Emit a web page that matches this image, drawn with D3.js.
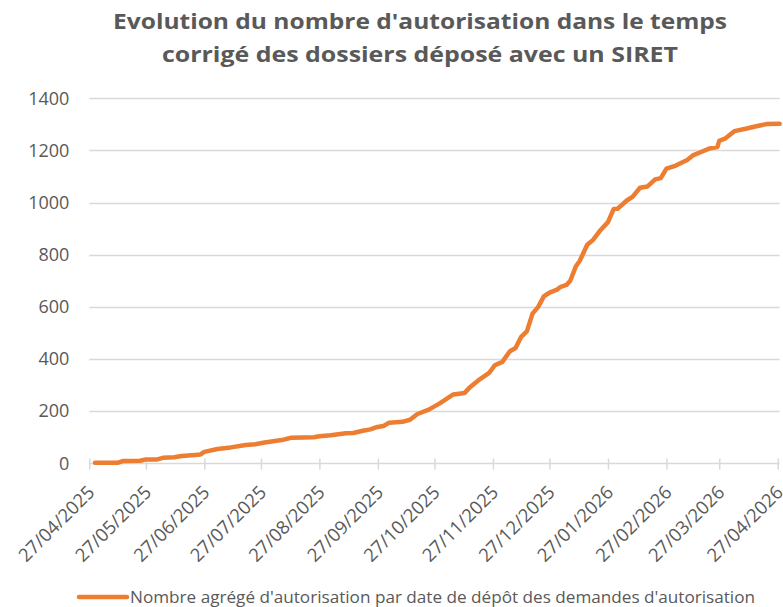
<!DOCTYPE html>
<html>
<head>
<meta charset="utf-8">
<script src="https://cdn.jsdelivr.net/npm/d3@7"></script>
<style>
  html, body { margin: 0; padding: 0; background: #fff; }
  svg { display: block; }
</style>
</head>
<body>
<svg id="chart" width="783" height="607"></svg>
<script>
const titleLines = ["Evolution du nombre d'autorisation dans le temps", "corrigé des dossiers déposé avec un SIRET"];
const seriesName = "Nombre agrégé d'autorisation par date de dépôt des demandes d'autorisation";
const yTicks = [0, 200, 400, 600, 800, 1000, 1200, 1400];
const xTickLabels = ["27/04/2025","27/05/2025","27/06/2025","27/07/2025","27/08/2025","27/09/2025","27/10/2025","27/11/2025","27/12/2025","27/01/2026","27/02/2026","27/03/2026","27/04/2026"];
const dates = ["2025-04-30","2025-05-12","2025-05-15","2025-05-24","2025-05-27","2025-06-02","2025-06-05","2025-06-11","2025-06-15","2025-06-22","2025-06-25","2025-06-27","2025-07-04","2025-07-11","2025-07-19","2025-07-24","2025-07-29","2025-08-07","2025-08-12","2025-08-24","2025-08-27","2025-09-02","2025-09-10","2025-09-14","2025-09-19","2025-09-23","2025-09-26","2025-09-30","2025-10-03","2025-10-10","2025-10-14","2025-10-18","2025-10-24","2025-10-30","2025-11-06","2025-11-12","2025-11-15","2025-11-20","2025-11-25","2025-11-28","2025-12-02","2025-12-06","2025-12-09","2025-12-12","2025-12-15","2025-12-18","2025-12-21","2025-12-24","2025-12-27","2025-12-31","2026-01-02","2026-01-05","2026-01-07","2026-01-10","2026-01-12","2026-01-16","2026-01-19","2026-01-23","2026-01-27","2026-01-30","2026-02-01","2026-02-06","2026-02-09","2026-02-13","2026-02-17","2026-02-21","2026-02-24","2026-02-27","2026-03-04","2026-03-10","2026-03-13","2026-03-17","2026-03-22","2026-03-26","2026-03-27","2026-03-30","2026-04-04","2026-04-10","2026-04-15","2026-04-21","2026-04-28"];
const values = [2,2,9,10,15,15,21,23,28,32,34,44,55,61,70,73,80,89,98,100,104,108,115,116,125,130,138,143,156,159,167,189,206,231,264,270,293,322,347,376,389,430,442,485,506,574,600,640,655,666,677,684,700,756,776,838,856,894,925,975,976,1008,1022,1057,1062,1089,1094,1130,1142,1163,1181,1193,1208,1213,1237,1245,1274,1283,1292,1301,1302];

const parse = d3.timeParse("%Y-%m-%d");
const parseLbl = d3.timeParse("%d/%m/%Y");
const fmtLbl = d3.timeFormat("%d/%m/%Y");
const data = dates.map((d, i) => ({ date: parse(d), value: values[i] }));
const tickDates = xTickLabels.map(parseLbl);

const svg = d3.select("#chart");
const textColor = "#595959";
const gridColor = "#d9d9d9";
const font = "'Open Sans', sans-serif";

const x = d3.scaleTime().domain([parseLbl("27/04/2025"), parse("2026-04-28")]).range([89.3, 779.6]);
const y = d3.scaleLinear().domain([0, 1400]).range([463.3, 98.3]);

// Title
const title = svg.append("text")
  .attr("text-anchor", "middle")
  .attr("font-family", font)
  .attr("font-weight", 700)
  .attr("font-size", 22)
  .attr("fill", textColor);
const tl = [[420, 29, 614], [420, 62, 516]];
titleLines.forEach((t, i) => {
  title.append("tspan").attr("x", tl[i][0]).attr("y", tl[i][1])
    .attr("textLength", tl[i][2]).attr("lengthAdjust", "spacingAndGlyphs").text(t);
});

// Grid lines
svg.append("g").selectAll("line").data(yTicks.filter(d => d > 0)).join("line")
  .attr("x1", 89.3).attr("x2", 779.6)
  .attr("y1", d => Math.round(y(d)) + 0.5).attr("y2", d => Math.round(y(d)) + 0.5)
  .attr("stroke", gridColor).attr("stroke-width", 1.3);

// Y axis labels
const yAxis = d3.axisLeft(y).tickValues(yTicks).tickFormat(d3.format("d")).tickSize(0).tickPadding(20);
const gy = svg.append("g").attr("transform", "translate(89.3,0)").call(yAxis);
gy.select(".domain").remove();
gy.selectAll("text").attr("font-family", font).attr("font-size", 18).attr("fill", textColor);

// X axis
const xAxis = d3.axisBottom(x).tickValues(tickDates).tickFormat(fmtLbl).tickSizeInner(5).tickSizeOuter(0).tickPadding(6);
const gx = svg.append("g").attr("transform", `translate(0,${Math.round(y(0)) + 0.5})`).call(xAxis);
gx.select(".domain").attr("stroke", gridColor).attr("stroke-width", 1.5)
  .attr("d", `M89.3,0H779.6`);
gx.selectAll(".tick line").attr("stroke", gridColor).attr("stroke-width", 1.5).attr("y1", -5).attr("y2", 6);
gx.selectAll(".tick text")
  .attr("font-family", font).attr("font-size", 18.5).attr("fill", textColor)
  .attr("text-anchor", "end")
  .attr("dy", "0")
  .attr("transform", "translate(6,30) rotate(-45)")
  .attr("y", 0).attr("x", 0);

// Line
const line = d3.line().x(d => x(d.date)).y(d => y(d.value)).curve(d3.curveLinear);
svg.append("path").datum(data)
  .attr("d", line)
  .attr("fill", "none")
  .attr("stroke", "#ED7D31")
  .attr("stroke-width", 4.5)
  .attr("stroke-linejoin", "round")
  .attr("stroke-linecap", "round");

// Legend
svg.append("line").attr("x1", 79).attr("x2", 127).attr("y1", 597).attr("y2", 597)
  .attr("stroke", "#ED7D31").attr("stroke-width", 4.5).attr("stroke-linecap", "round");
svg.append("text").attr("x", 130).attr("y", 603)
  .attr("font-family", font).attr("font-size", 16).attr("fill", textColor)
  .attr("textLength", 625).attr("lengthAdjust", "spacingAndGlyphs")
  .text(seriesName);
</script>
</body>
</html>
